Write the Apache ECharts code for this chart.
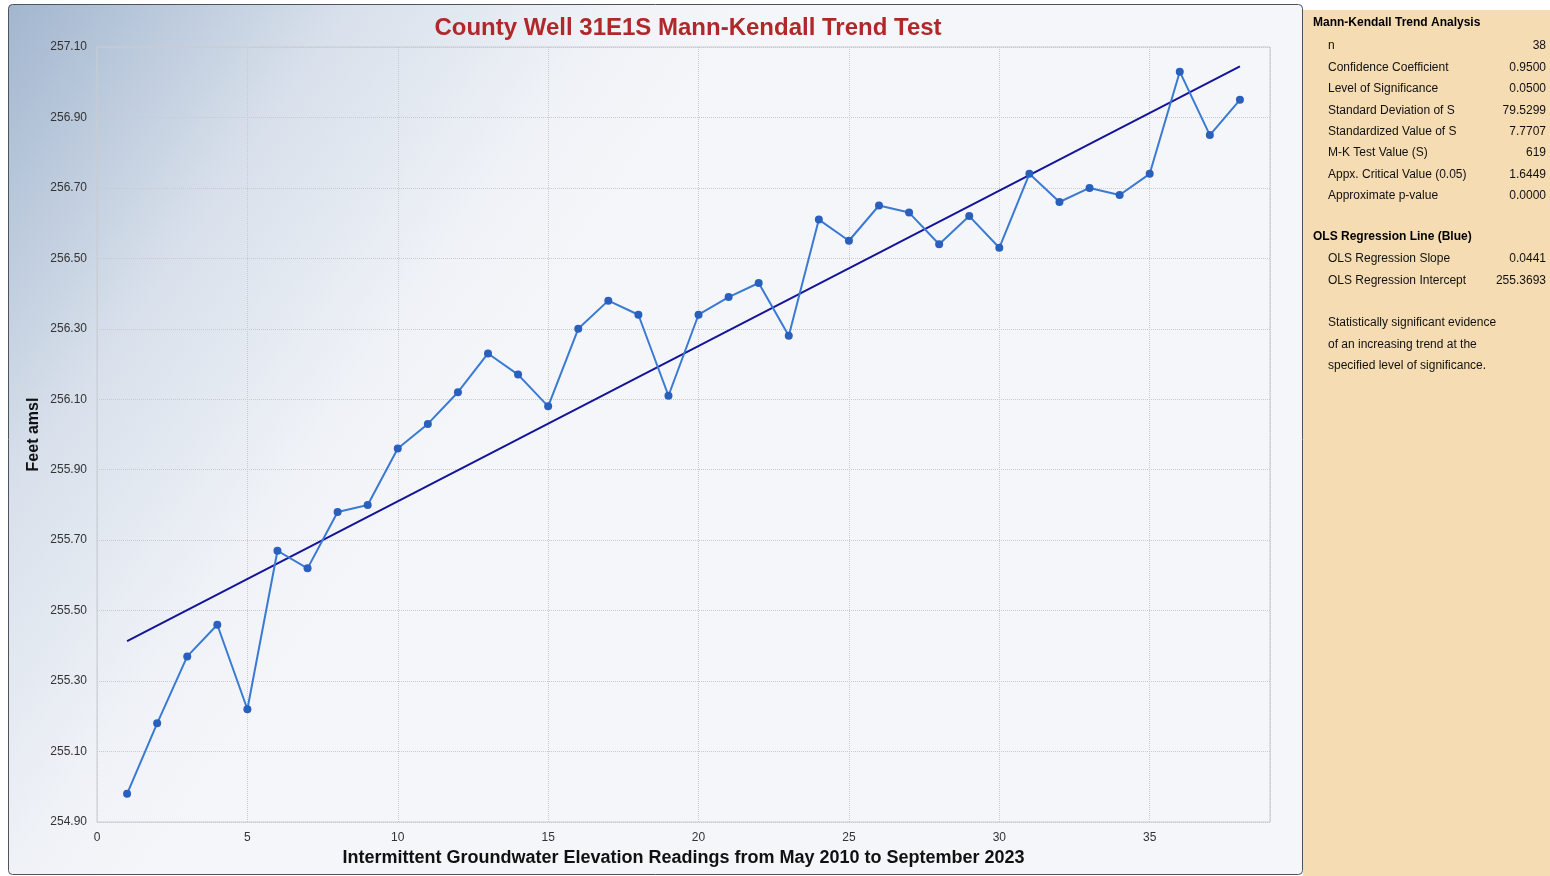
<!DOCTYPE html>
<html>
<head>
<meta charset="utf-8">
<title>County Well 31E1S Mann-Kendall Trend Test</title>
<script src="https://cdn.jsdelivr.net/npm/echarts@6/dist/echarts.min.js"></script>
<style>
  html, body { margin: 0; padding: 0; background: #fff; }
  #main { width: 1550px; height: 876px; }
</style>
</head>
<body>
<div id="main"></div>
<script>
// groundwater elevation readings (feet amsl), reading no. 1..38
const elevations = [
  254.98, 255.18, 255.37, 255.46, 255.22, 255.67, 255.62, 255.78, 255.80, 255.96,
  256.03, 256.12, 256.23, 256.17, 256.08, 256.30, 256.38, 256.34, 256.11, 256.34,
  256.39, 256.43, 256.28, 256.61, 256.55, 256.65, 256.63, 256.54, 256.62, 256.53,
  256.74, 256.66, 256.70, 256.68, 256.74, 257.03, 256.85, 256.95
]
const yTickLabels = ['254.90', '255.10', '255.30', '255.50', '255.70', '255.90',
  '256.10', '256.30', '256.50', '256.70', '256.90', '257.10']

// stats panel
const mkLabels = ['n', 'Confidence Coefficient', 'Level of Significance', 'Standard Deviation of S',
  'Standardized Value of S', 'M-K Test Value (S)', 'Appx. Critical Value (0.05)', 'Approximate p-value']
const mkValues = ['38', '0.9500', '0.0500', '79.5299', '7.7707', '619', '1.6449', '0.0000']
const olsLabels = ['OLS Regression Slope', 'OLS Regression Intercept']
const olsValues = ['0.0441', '255.3693']
const noteLines = ['Statistically significant evidence', 'of an increasing trend at the',
  'specified level of significance.']

const olsSlope = 0.0441
const olsIntercept = 255.3693

let points = elevations.map(function (v, i) { return [i + 1, v] })
let first = 1
let last = elevations.length
let trend = [
  [first, olsIntercept + olsSlope * first],
  [last, olsIntercept + olsSlope * last]
]

let panelFont = '12px "Liberation Sans", Arial, sans-serif'
let panelBold = 'bold 12px "Liberation Sans", Arial, sans-serif'

let graphics = [
  {
    type: 'rect', z: -10, silent: true,
    shape: { x: 8.5, y: 4.5, width: 1294, height: 870, r: 4 },
    style: {
      fill: new echarts.graphic.LinearGradient(8, 4, 520, 360, [
        { offset: 0, color: '#a2b6cf' },
        { offset: 0.45, color: '#d8e0eb' },
        { offset: 0.8, color: '#eff2f7' },
        { offset: 1, color: '#f5f6fa' }
      ], true),
      stroke: '#4d545c', lineWidth: 1
    }
  },
  {
    type: 'rect', z: -10, silent: true,
    shape: { x: 1303, y: 10, width: 247, height: 866 },
    style: { fill: '#f5dcb2' }
  },
  {
    type: 'text', left: 1313, top: 17,
    style: { text: 'Mann-Kendall Trend Analysis', font: panelBold, fill: '#000' }
  }
]

mkLabels.forEach(function (label, i) {
  let y = 40 + i * 21.4
  graphics.push({ type: 'text', x: 1328, y: y, style: { text: label, font: panelFont, fill: '#111' } })
  graphics.push({ type: 'text', x: 1546, y: y, style: { text: mkValues[i], font: panelFont, fill: '#111', align: 'right' } })
})
graphics.push({ type: 'text', x: 1313, y: 231, style: { text: 'OLS Regression Line (Blue)', font: panelBold, fill: '#000' } })
olsLabels.forEach(function (label, i) {
  let y = 253 + i * 21.4
  graphics.push({ type: 'text', x: 1328, y: y, style: { text: label, font: panelFont, fill: '#111' } })
  graphics.push({ type: 'text', x: 1546, y: y, style: { text: olsValues[i], font: panelFont, fill: '#111', align: 'right' } })
})
noteLines.forEach(function (line, i) {
  graphics.push({ type: 'text', x: 1328, y: 317 + i * 21.4, style: { text: line, font: panelFont, fill: '#111' } })
})

let chart = echarts.init(document.getElementById('main'))
chart.setOption({
  animation: false,
  backgroundColor: '#ffffff',
  title: {
    text: 'County Well 31E1S Mann-Kendall Trend Test',
    left: 683,
    top: 11,
    textAlign: 'center',
    textStyle: { color: '#b0282a', fontSize: 24, fontWeight: 'bold', fontFamily: '"Liberation Sans", Arial, sans-serif' }
  },
  graphic: graphics,
  grid: {
    left: 97, right: 280, top: 47, bottom: 54,
    show: true, borderColor: '#c9cdd4', borderWidth: 1, backgroundColor: 'transparent'
  },
  xAxis: {
    type: 'value',
    min: 0, max: 39, interval: 5,
    name: 'Intermittent Groundwater Elevation Readings from May 2010 to September 2023',
    nameLocation: 'middle',
    nameGap: 26,
    nameTextStyle: { color: '#111', fontSize: 18, fontWeight: 'bold', fontFamily: '"Liberation Sans", Arial, sans-serif' },
    axisLine: { show: false },
    axisTick: { show: false },
    axisLabel: { color: '#333', fontSize: 12, margin: 10, showMaxLabel: false, fontFamily: '"Liberation Sans", Arial, sans-serif' },
    splitLine: { show: true, lineStyle: { color: '#c8cacf', type: 'dotted', width: 1 } }
  },
  yAxis: [
    {
      type: 'value',
      min: 254.9, max: 257.1,
      name: 'Feet amsl',
      nameLocation: 'middle',
      nameGap: 55,
      nameTextStyle: { color: '#111', fontSize: 16, fontWeight: 'bold', fontFamily: '"Liberation Sans", Arial, sans-serif' },
      axisLine: { show: false },
      axisTick: { show: false },
      axisLabel: { show: false },
      splitLine: { show: false }
    },
    {
      type: 'category',
      data: yTickLabels,
      boundaryGap: false,
      position: 'left',
      axisLine: { show: false },
      axisTick: { show: false },
      axisLabel: { color: '#333', fontSize: 12, margin: 10, interval: 0, fontFamily: '"Liberation Sans", Arial, sans-serif' },
      splitLine: { show: true, interval: 0, lineStyle: { color: '#c8cacf', type: 'dotted', width: 1 } }
    }
  ],
  series: [
    {
      name: 'Elevation',
      type: 'line',
      yAxisIndex: 0,
      data: points,
      symbol: 'circle',
      symbolSize: 8,
      lineStyle: { color: '#3a7ad4', width: 2 },
      itemStyle: { color: '#2a60bd' },
      z: 3
    },
    {
      name: 'OLS Regression',
      type: 'line',
      yAxisIndex: 0,
      data: trend,
      symbol: 'none',
      lineStyle: { color: '#14149a', width: 2 },
      z: 2
    }
  ]
})
</script>
</body>
</html>
